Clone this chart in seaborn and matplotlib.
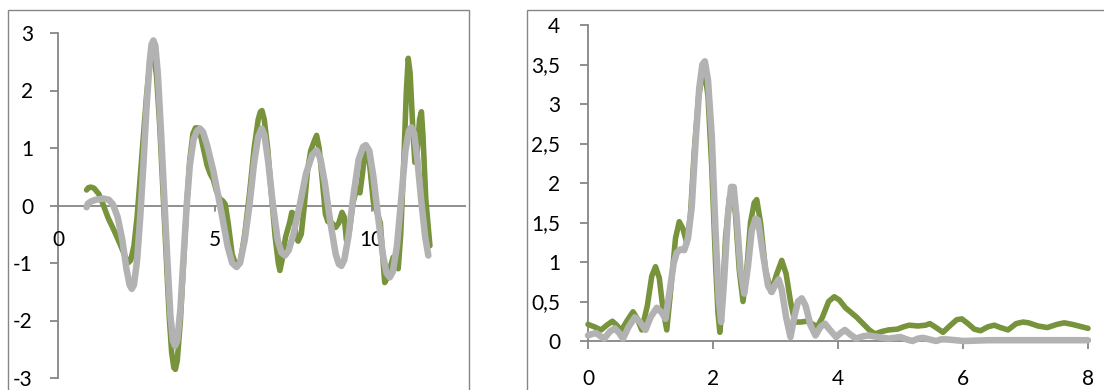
import matplotlib
matplotlib.use("Agg")
import matplotlib.pyplot as plt
import seaborn as sns
import pandas as pd
from matplotlib.patches import Rectangle

sns.set_theme(style="white")
plt.rcParams['font.family'] = ['Lato', 'DejaVu Sans']

# ---------------- data: left chart ----------------
left_gray_x = [0.91, 0.95, 1.05, 1.2, 1.45, 1.62, 1.75, 1.9, 2.05, 2.18, 2.28, 2.35, 2.42, 2.52, 2.62,
               2.72, 2.82, 2.92, 2.98, 3.04, 3.1, 3.18, 3.28, 3.38, 3.48, 3.58, 3.66, 3.73, 3.8, 3.9,
               4.0, 4.1, 4.2, 4.32, 4.43, 4.52, 4.62, 4.75, 4.95, 5.2, 5.4, 5.55, 5.69, 5.8, 5.95,
               6.1, 6.25, 6.38, 6.49, 6.58, 6.7, 6.85, 7.0, 7.12, 7.23, 7.35, 7.5, 7.7, 7.9, 8.1,
               8.24, 8.36, 8.5, 8.68, 8.85, 8.95, 9.03, 9.12, 9.25, 9.42, 9.58, 9.72, 9.81, 9.92,
               10.05, 10.2, 10.35, 10.47, 10.57, 10.67, 10.8, 10.95, 11.07, 11.18, 11.26, 11.35,
               11.45, 11.58, 11.7, 11.8]
left_gray_y = [-0.03, 0.03, 0.07, 0.1, 0.12, 0.1, 0.02, -0.2, -0.6, -1.1, -1.38, -1.45, -1.38, -0.95, -0.2,
               0.7, 1.7, 2.5, 2.8, 2.87, 2.78, 2.3, 1.3, 0.2, -0.9, -1.9, -2.35, -2.44, -2.35, -1.8,
               -0.9, 0.0, 0.7, 1.15, 1.3, 1.34, 1.28, 1.05, 0.6, -0.1, -0.7, -1.0, -1.07, -1.0, -0.6,
               0.0, 0.75, 1.2, 1.34, 1.22, 0.75, 0.0, -0.6, -0.82, -0.87, -0.78, -0.5, 0.0, 0.55, 0.88,
               0.96, 0.82, 0.4, -0.3, -0.85, -1.02, -1.05, -0.95, -0.55, 0.2, 0.8, 1.02, 1.05, 0.95,
               0.5, -0.2, -0.85, -1.18, -1.25, -1.15, -0.7, 0.2, 0.95, 1.3, 1.36, 1.25,
               0.8, 0.05, -0.55, -0.87]

left_green_x = [0.91, 0.97, 1.05, 1.15, 1.3, 1.45, 1.6, 1.8, 2.0, 2.15, 2.25, 2.32, 2.42, 2.52, 2.62,
                2.72, 2.82, 2.92, 3.0, 3.06, 3.14, 3.24, 3.34, 3.44, 3.54, 3.62, 3.69, 3.74, 3.8, 3.9,
                4.0, 4.1, 4.2, 4.3, 4.38, 4.45, 4.55, 4.65, 4.75, 4.85, 4.95, 5.05, 5.15, 5.25, 5.33,
                5.42, 5.55, 5.69, 5.82, 5.95, 6.1, 6.25, 6.38, 6.45, 6.5, 6.57, 6.68, 6.8, 6.92, 7.02,
                7.07, 7.14, 7.25, 7.38, 7.45, 7.52, 7.58, 7.65, 7.75, 7.85, 7.95, 8.05, 8.15, 8.24,
                8.32, 8.42, 8.52, 8.6, 8.72, 8.85, 8.95, 9.05, 9.12, 9.19, 9.28, 9.4, 9.52, 9.62,
                9.7, 9.78, 9.86, 9.95, 10.05, 10.15, 10.27, 10.35, 10.41, 10.5, 10.6, 10.68, 10.76,
                10.84, 10.92, 11.02, 11.1, 11.16, 11.22, 11.3, 11.37, 11.44, 11.52, 11.58, 11.63,
                11.72, 11.85]
left_green_y = [0.27, 0.31, 0.32, 0.3, 0.2, 0.0, -0.22, -0.45, -0.7, -0.9, -0.99, -0.95, -0.7, -0.2, 0.5,
                1.2, 1.9, 2.45, 2.65, 2.6, 2.25, 1.4, 0.3, -0.8, -1.9, -2.55, -2.82, -2.85, -2.7, -2.0,
                -1.0, 0.0, 0.8, 1.25, 1.35, 1.35, 1.2, 0.95, 0.7, 0.55, 0.45, 0.25, 0.12, 0.08, 0.02,
                -0.3, -0.85, -1.07, -0.95, -0.5, 0.2, 1.0, 1.5, 1.63, 1.65, 1.5, 1.0, 0.2, -0.55, -1.0,
                -1.13, -0.95, -0.55, -0.3, -0.12, -0.15, -0.55, -0.62, -0.5, 0.0, 0.6, 0.95, 1.1, 1.22,
                1.0, 0.45, -0.15, -0.28, -0.3, -0.38, -0.3, -0.12, -0.2, -0.6, -0.45, 0.05, 0.3, 0.22,
                0.55, 0.95, 1.0, 0.6, 0.05, -0.1, -0.3, -0.9, -1.34, -1.25, -1.05, -0.9, -1.05,
                -1.1, -0.5, 0.8, 2.0, 2.56, 2.3, 1.4, 0.75, 0.9, 1.5, 1.63, 1.2,
                0.1, -0.7]

left_xticks = [0, 5, 10]
left_yticks = [-3, -2, -1, 0, 1, 2, 3]

# ---------------- data: right chart ----------------
right_green_x = [0.0, 0.1, 0.21, 0.3, 0.39, 0.46, 0.53, 0.62, 0.72, 0.79, 0.86, 0.95, 1.02, 1.08, 1.14,
                 1.2, 1.26, 1.33, 1.4, 1.46, 1.52, 1.58, 1.64, 1.7, 1.77, 1.83, 1.87, 1.92, 1.98,
                 2.04, 2.08, 2.11, 2.15, 2.2, 2.26, 2.31, 2.36, 2.42, 2.48, 2.54, 2.6, 2.66, 2.7,
                 2.76, 2.84, 2.93, 3.02, 3.1, 3.17, 3.24, 3.31, 3.4, 3.5, 3.58, 3.67, 3.75, 3.85,
                 3.94, 4.02, 4.12, 4.21, 4.3, 4.4, 4.5, 4.59, 4.7, 4.81, 4.95, 5.05, 5.14, 5.28,
                 5.4, 5.47, 5.55, 5.68, 5.8, 5.9, 5.98, 6.08, 6.18, 6.28, 6.4, 6.5, 6.6, 6.72, 6.85,
                 6.96, 7.05, 7.2, 7.35, 7.5, 7.62, 7.75, 7.9, 8.0]
right_green_y = [0.21, 0.18, 0.14, 0.2, 0.25, 0.2, 0.13, 0.25, 0.37, 0.28, 0.14, 0.45, 0.82, 0.94, 0.8,
                 0.4, 0.14, 0.7, 1.3, 1.51, 1.42, 1.24, 1.6, 2.4, 3.1, 3.37, 3.39, 3.1, 2.2,
                 1.0, 0.35, 0.11, 0.5, 1.3, 1.8, 1.91, 1.6, 0.9, 0.5, 0.9, 1.5, 1.75, 1.79,
                 1.5, 0.9, 0.62, 0.85, 1.02, 0.85, 0.5, 0.24, 0.24, 0.25, 0.22, 0.18, 0.3, 0.5,
                 0.56, 0.52, 0.42, 0.36, 0.3, 0.22, 0.14, 0.09, 0.12, 0.14, 0.15, 0.18, 0.2, 0.19,
                 0.2, 0.22, 0.18, 0.11, 0.2, 0.27, 0.28, 0.22, 0.15, 0.13, 0.18, 0.2, 0.17, 0.14, 0.22,
                 0.24, 0.23, 0.19, 0.17, 0.21, 0.23, 0.21, 0.18, 0.16]

right_gray_x = [0.0, 0.07, 0.13, 0.2, 0.26, 0.35, 0.43, 0.5, 0.56, 0.65, 0.75, 0.83, 0.92, 1.0, 1.1,
                1.18, 1.24, 1.3, 1.37, 1.42, 1.48, 1.54, 1.6, 1.66, 1.72, 1.78, 1.83, 1.87, 1.92,
                1.98, 2.04, 2.09, 2.13, 2.18, 2.24, 2.29, 2.33, 2.38, 2.44, 2.5, 2.56, 2.62, 2.68,
                2.72, 2.8, 2.88, 2.94, 3.0, 3.05, 3.1, 3.17, 3.24, 3.3, 3.36, 3.42, 3.48, 3.56,
                3.64, 3.72, 3.79, 3.86, 3.97, 4.04, 4.11, 4.2, 4.29, 4.4, 4.49, 4.65, 4.81, 4.9,
                5.0, 5.1, 5.19, 5.28, 5.36, 5.46, 5.57, 5.65, 5.74, 5.88, 6.01, 6.4, 6.77, 7.4, 8.0]
right_gray_y = [0.07, 0.09, 0.1, 0.06, 0.03, 0.12, 0.16, 0.1, 0.03, 0.18, 0.3, 0.24, 0.14, 0.3, 0.42,
                0.36, 0.28, 0.6, 0.98, 1.12, 1.16, 1.15, 1.3, 1.7, 2.5, 3.2, 3.5, 3.54, 3.3,
                2.6, 1.4, 0.55, 0.24, 0.8, 1.6, 1.95, 1.95, 1.55, 0.9, 0.6, 0.95, 1.4, 1.55,
                1.53, 1.1, 0.7, 0.62, 0.72, 0.78, 0.65, 0.3, 0.05, 0.3, 0.5, 0.54, 0.45, 0.2,
                0.07, 0.18, 0.22, 0.15, 0.05, 0.1, 0.14, 0.08, 0.03, 0.06, 0.07, 0.05, 0.03, 0.04,
                0.05, 0.02, 0.0, 0.03, 0.04, 0.02, 0.0, 0.02, 0.02, 0.01, 0.0, 0.01, 0.01, 0.01, 0.01]

right_xticks = [0, 2, 4, 6, 8]
right_yticks = [0, 0.5, 1, 1.5, 2, 2.5, 3, 3.5, 4]
right_ylabels = ["0", "0,5", "1", "1,5", "2", "2,5", "3", "3,5", "4"]

GREEN = "#77933C"
GRAY = "#B2B2B2"
AXC = "#868686"
LW_G = 4.0
LW_A = 4.7

W, H = 1104, 390
fig = plt.figure(figsize=(W / 100, H / 100), dpi=100)


def frac(x0, y0, x1, y1):
    return [x0 / W, 1 - y1 / H, (x1 - x0) / W, (y1 - y0) / H]

# chart boxes
fig.add_artist(Rectangle((8 / W, -0.1), (469 - 8) / W, 1.1 - 10 / H, transform=fig.transFigure,
                         fill=False, ec=AXC, lw=1.0))
fig.add_artist(Rectangle((527 / W, -0.1), 0.6, 1.1 - 10 / H, transform=fig.transFigure,
                         fill=False, ec=AXC, lw=1.0))

# ---------------- left ----------------
ax1 = fig.add_axes(frac(58, 33, 466, 378))
ax1.set_facecolor("none")
dfl_g = pd.DataFrame({"x": left_green_x, "y": left_green_y})
dfl_a = pd.DataFrame({"x": left_gray_x, "y": left_gray_y})
ax1.axhline(0, color=AXC, lw=1.3, zorder=1)
sns.lineplot(data=dfl_g, x="x", y="y", ax=ax1, color=GREEN, lw=LW_G, sort=False,
             estimator=None, solid_capstyle="round", solid_joinstyle="round", zorder=3)
sns.lineplot(data=dfl_a, x="x", y="y", ax=ax1, color=GRAY, lw=LW_A, sort=False,
             estimator=None, solid_capstyle="round", solid_joinstyle="round", zorder=4)
ax1.set_xlim(0, 13)
ax1.set_ylim(-3, 3)
for s in ["top", "right", "bottom"]:
    ax1.spines[s].set_visible(False)
ax1.spines["left"].set_color(AXC)
ax1.spines["left"].set_linewidth(1.3)
ax1.set_yticks(left_yticks)
ax1.set_yticklabels([str(v) for v in left_yticks])
ax1.set_xticks(left_xticks)
ax1.set_xticklabels([])
ax1.tick_params(axis="y", direction="out", length=6, width=1.3, color=AXC, pad=12,
                labelsize=15, labelcolor="black", left=True)
ax1.tick_params(axis="x", bottom=False)
# x tick labels sit under the zero line
for v in left_xticks:
    ax1.annotate(str(v), xy=(v, 0), xytext=(0, -34), textcoords="offset pixels",
                 ha="center", va="center", fontsize=15, color="black")
    ax1.plot([v, v], [0, -0.09], color=AXC, lw=1.3, zorder=1)
ax1.set_xlabel("")
ax1.set_ylabel("")

# ---------------- right ----------------
ax2 = fig.add_axes(frac(588, 25, 1088, 341))
ax2.set_facecolor("none")
dfr_g = pd.DataFrame({"x": right_green_x, "y": right_green_y})
dfr_a = pd.DataFrame({"x": right_gray_x, "y": right_gray_y})
sns.lineplot(data=dfr_g, x="x", y="y", ax=ax2, color=GREEN, lw=LW_G, sort=False,
             estimator=None, solid_capstyle="round", solid_joinstyle="round", zorder=3, clip_on=False)
sns.lineplot(data=dfr_a, x="x", y="y", ax=ax2, color=GRAY, lw=LW_A, sort=False,
             estimator=None, solid_capstyle="round", solid_joinstyle="round", zorder=4, clip_on=False)
ax2.set_xlim(0, 8)
ax2.set_ylim(0, 4)
for s in ["top", "right"]:
    ax2.spines[s].set_visible(False)
for s in ["left", "bottom"]:
    ax2.spines[s].set_color(AXC)
    ax2.spines[s].set_linewidth(1.3)
ax2.set_yticks(right_yticks)
ax2.set_yticklabels(right_ylabels)
ax2.set_xticks(right_xticks)
ax2.set_xticklabels([str(v) for v in right_xticks])
ax2.tick_params(axis="y", direction="out", length=6, width=1.3, color=AXC, pad=14,
                labelsize=15, labelcolor="black", left=True)
ax2.tick_params(axis="x", direction="out", length=6, width=1.3, color=AXC, pad=14,
                labelsize=15, labelcolor="black", bottom=True)
ax2.set_xlabel("")
ax2.set_ylabel("")

fig.savefig("out.png", dpi=100)
